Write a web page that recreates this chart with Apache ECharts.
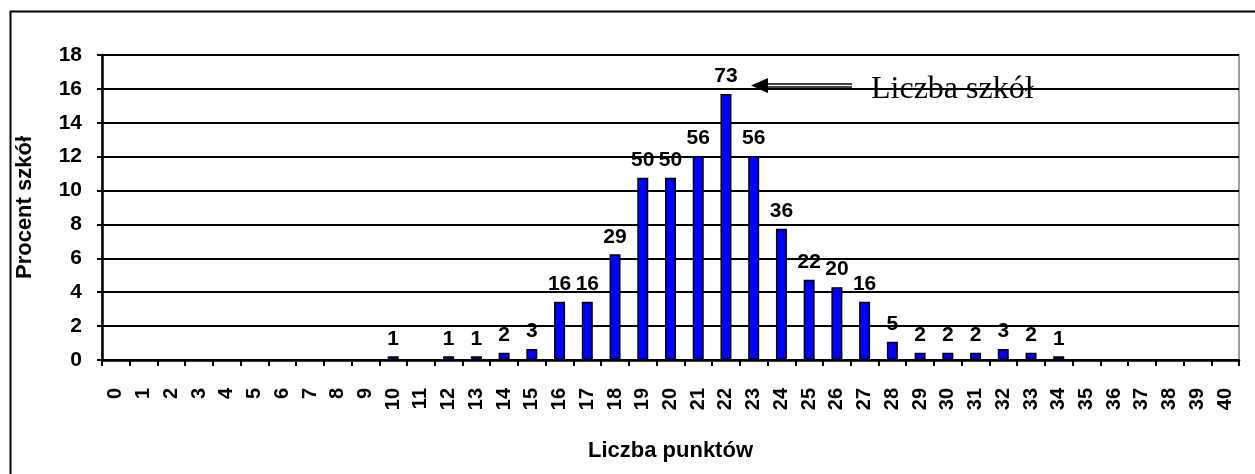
<!DOCTYPE html>
<html><head><meta charset="utf-8">
<script src="https://cdn.jsdelivr.net/npm/echarts@6/dist/echarts.min.js"></script>
<style>html,body{margin:0;padding:0;background:#fff}#c{width:1255px;height:474px}</style>
</head><body><div id="c"></div>
<script>
const categories = ['0','1','2','3','4','5','6','7','8','9','10','11','12','13','14','15','16','17','18','19','20','21','22','23','24','25','26','27','28','29','30','31','32','33','34','35','36','37','38','39','40'];
// percent of schools
const percentValues = [0,0,0,0,0,0,0,0,0,0,0.22,0,0.22,0.22,0.43,0.65,3.44,3.44,6.24,10.75,10.75,12.04,15.70,12.04,7.74,4.73,4.30,3.44,1.08,0.43,0.43,0.43,0.65,0.43,0.22,0,0,0,0,0,0];
// number of schools (bar labels)
const countLabels = [null,null,null,null,null,null,null,null,null,null,1,null,1,1,2,3,16,16,29,50,50,56,73,56,36,22,20,16,5,2,2,2,3,2,1,null,null,null,null,null,null];
const yTicks = [0,2,4,6,8,10,12,14,16,18];

const chart = echarts.init(document.getElementById('c'));
const font = '"Liberation Sans", Arial, sans-serif';
chart.setOption({
  animation: false,
  backgroundColor: '#fff',
  grid: {left: 102, right: 16, top: 55, bottom: 114, containLabel: false,
         show: true, borderColor: '#808080', borderWidth: 1.5},
  xAxis: {
    type: 'category', data: categories,
    name: 'Liczba punktów', nameLocation: 'middle', nameGap: 80,
    nameTextStyle: {fontFamily: font, fontWeight: 'bold', fontSize: 22, color: '#000'},
    axisLine: {lineStyle: {color: '#000', width: 2.5}},
    axisTick: {show: true, alignWithLabel: false, length: 6, lineStyle: {color: '#000', width: 2}},
    axisLabel: {rotate: 90, margin: 28, interval: 0, fontFamily: font, fontWeight: 'bold', fontSize: 20, color: '#000'}
  },
  yAxis: {
    type: 'value', min: 0, max: 18, interval: 2,
    name: 'Procent szkół', nameLocation: 'middle', nameGap: 66,
    nameTextStyle: {fontFamily: font, fontWeight: 'bold', fontSize: 22, color: '#000'},
    axisLine: {show: true, lineStyle: {color: '#000', width: 2.5}},
    axisTick: {show: true, length: 5, lineStyle: {color: '#000', width: 2}},
    axisLabel: {margin: 20, fontFamily: font, fontWeight: 'bold', fontSize: 21, color: '#000',
      formatter: v => yTicks.includes(v) ? String(v) : ''},
    splitLine: {show: true, lineStyle: {color: '#000', width: 2}}
  },
  series: [{
    type: 'bar', data: percentValues, barWidth: 11,
    itemStyle: {color: '#0000FF', borderColor: '#000', borderWidth: 1.5},
    label: {show: true, position: 'top', distance: 7,
      fontFamily: font, fontWeight: 'bold', fontSize: 21, color: '#000',
      formatter: p => countLabels[p.dataIndex] == null ? '' : String(countLabels[p.dataIndex])}
  }],
  graphic: [
    {type: 'rect', left: 8, top: 9, shape: {width: 1280, height: 500},
     style: {fill: 'none', stroke: '#000', lineWidth: 2}, silent: true},
    {type: 'line', shape: {x1: 762, y1: 84, x2: 852, y2: 84}, style: {stroke: '#000', lineWidth: 1.5}},
    {type: 'line', shape: {x1: 762, y1: 87, x2: 852, y2: 87}, style: {stroke: '#000', lineWidth: 1.5}},
    {type: 'polygon', shape: {points: [[751, 85.5], [768, 78], [768, 93]]}, style: {fill: '#000'}},
    {type: 'text', x: 871, y: 90, style: {text: 'Liczba szkół', font: '32px "Liberation Serif", "Times New Roman", serif',
      fill: '#000', verticalAlign: 'middle', align: 'left'}}
  ]
});
</script></body></html>
